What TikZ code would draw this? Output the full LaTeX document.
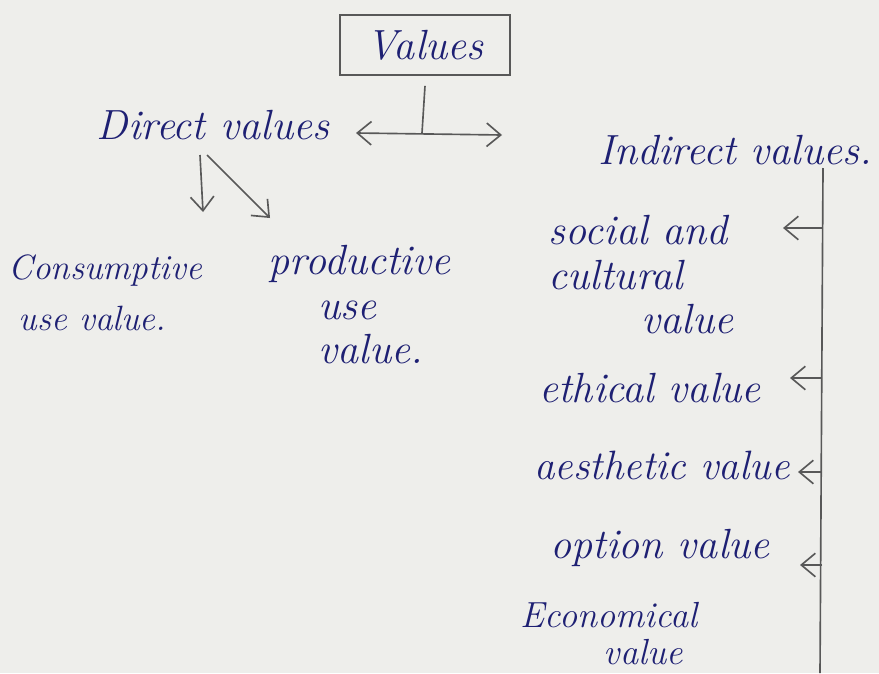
\documentclass[tikz,border=0pt]{standalone}
\usetikzlibrary{arrows.meta}
\definecolor{ink}{RGB}{30,32,115}
\definecolor{pencil}{RGB}{88,88,88}
\definecolor{paper}{RGB}{238,238,235}
\tikzset{
  hand/.style={text=ink,font=\fontsize{36}{38}\selectfont\itshape,inner sep=2pt},
  pline/.style={pencil,line width=1.4pt},
  barb/.style={pline,-{Straight Barb[length=12pt,width=20pt]}},
  dbarb/.style={pline,{Straight Barb[length=12pt,width=20pt]}-{Straight Barb[length=12pt,width=20pt]}}
}
\begin{document}
\begin{tikzpicture}[x=0.03cm,y=-0.03cm]
\fill[paper] (0,0) rectangle (879,673);
\useasboundingbox (0,0) rectangle (879,673);
\node[hand,draw=pencil,line width=1.4pt,minimum width=5.1cm,minimum height=1.8cm] (values) at (425,45) {Values};
\node[hand] (dv) at (213,125) {Direct values};
\node[hand] (iv) at (735,150) {Indirect values.};
\node[hand,font=\fontsize{30}{44}\selectfont\itshape,align=left,anchor=north west] (cons) at (6,252) {Consumptive\\ \hskip0.3cm use value.};
\node[hand,align=left,anchor=north west] (prod) at (266,243) {productive\\ \hskip1.5cm use\\ \hskip1.5cm value.};
\node[hand,align=left,anchor=north west] (social) at (546,213) {social and\\ cultural\\ \hskip2.8cm value};
\node[hand] (ethical) at (650,388) {ethical value};
\node[hand,font=\fontsize{35}{38}\selectfont\itshape] (aesth) at (662,465) {aesthetic value};
\node[hand] (option) at (660,548) {option value};
\node[hand,font=\fontsize{31}{31}\selectfont\itshape,align=left,anchor=north west] (econ) at (518,600) {Economical\\ \hskip2.5cm value};
\coordinate (split) at (422,133);
\coordinate (lt) at (356,133);
\coordinate (rt) at (502,135);
\draw[pline] (values.south) ++(0,10) -- (split);
\draw[dbarb] (lt) -- (rt);
\coordinate (d1) at (200,155);
\coordinate (c1) at (203,212);
\coordinate (d2) at (207,155);
\coordinate (c2) at (270,218);
\draw[barb] (d1) -- (c1);
\draw[barb] (d2) -- (c2);
\coordinate (brtop) at (823,168);
\coordinate (brbot) at (820,673);
\draw[pline] (brtop) -- (brbot);
\foreach \y/\t in {228/783,378/790,472/798,565/800} {
  \coordinate (r) at (822,\y);
  \coordinate (t) at (\t,\y);
  \draw[barb] (r) -- (t);
}
\end{tikzpicture}
\end{document}
